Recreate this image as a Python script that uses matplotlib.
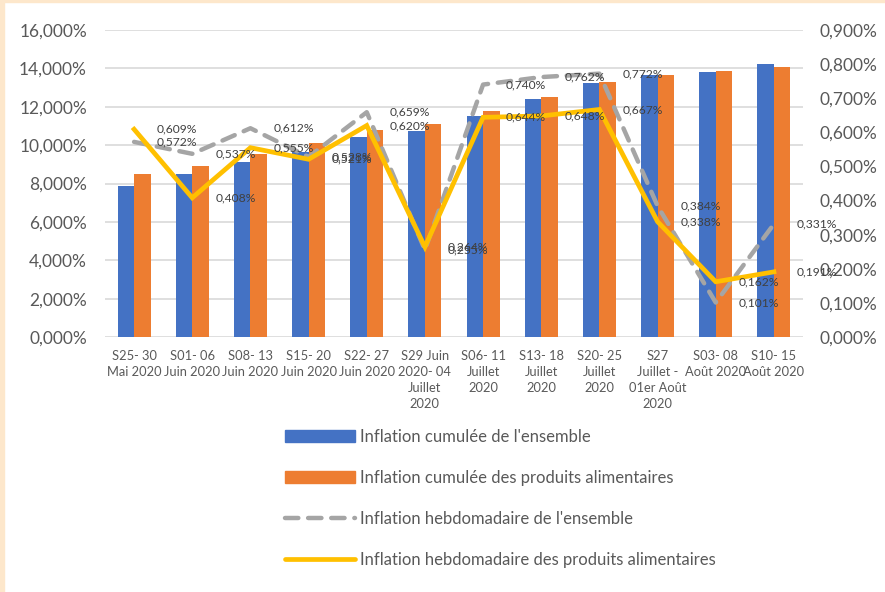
import matplotlib
matplotlib.use("Agg")
import matplotlib.pyplot as plt
from matplotlib.ticker import FuncFormatter
from matplotlib.patches import Rectangle, Patch
from matplotlib.lines import Line2D
import numpy as np

plt.rcParams['font.family'] = ['Lato', 'DejaVu Sans']

# data
weeks = ["S25- 30\nMai 2020", "S01- 06\nJuin 2020", "S08- 13\nJuin 2020",
         "S15- 20\nJuin 2020", "S22- 27\nJuin 2020", "S29 Juin\n2020- 04\nJuillet\n2020",
         "S06- 11\nJuillet\n2020", "S13- 18\nJuillet\n2020", "S20- 25\nJuillet\n2020",
         "S27\nJuillet -\n01er Août\n2020", "S03- 08\nAoût 2020", "S10- 15\nAoût 2020"]
cum_all = [7.88, 8.48, 9.12, 9.65, 10.44, 10.73, 11.53, 12.40, 13.26, 13.68, 13.81, 14.21]
cum_food = [8.49, 8.93, 9.54, 10.09, 10.79, 11.10, 11.79, 12.52, 13.30, 13.65, 13.84, 14.07]
week_all = [0.572, 0.537, 0.612, 0.528, 0.659, 0.255, 0.740, 0.762, 0.772, 0.384, 0.101, 0.331]
week_food = [0.609, 0.408, 0.555, 0.521, 0.620, 0.264, 0.644, 0.648, 0.667, 0.338, 0.162, 0.191]

labels_legend = ["Inflation cumulée de l'ensemble",
                 "Inflation cumulée des produits alimentaires",
                 "Inflation hebdomadaire de l'ensemble",
                 "Inflation hebdomadaire des produits alimentaires"]

blue = '#4472C4'
orange = '#ED7D31'
grey = '#A5A5A5'
yellow = '#FFC000'
txt = '#595959'


def pct(v, p=None):
    return f"{v:.3f}%".replace('.', ',')


fig = plt.figure(figsize=(8.85, 5.92), dpi=100)
fig.patch.set_facecolor('white')
# peach frame on left / top edge
fig.patches.append(Rectangle((0, 0), 4/885, 1, transform=fig.transFigure, color='#FDE7CB', zorder=0))
fig.patches.append(Rectangle((0, 1 - 1.5/592), 1, 1.5/592, transform=fig.transFigure, color='#FDE7CB', zorder=0))

ax = fig.add_axes([105/885, 1 - 337/592, 698/885, 307/592])
x = np.arange(len(weeks))
w = 0.285
ax.bar(x - w/2, cum_all, w, color=blue, zorder=2)
ax.bar(x + w/2, cum_food, w, color=orange, zorder=2)
ax.set_ylim(0, 16)
ax.set_xlim(-0.5, len(weeks) - 0.5)
ax.set_yticks(np.arange(0, 17, 2))
ax.yaxis.set_major_formatter(FuncFormatter(pct))
ax.grid(axis='y', color='#D9D9D9', lw=1.2, zorder=0)
ax.set_axisbelow(True)
for s in ax.spines.values():
    s.set_visible(False)
ax.set_xticks(x)
ax.set_xticklabels(weeks, fontsize=9.3, color=txt, linespacing=1.4)
ax.tick_params(axis='both', length=0)
ax.tick_params(axis='y', labelsize=12.5, labelcolor=txt, pad=13)
ax.tick_params(axis='x', pad=9)

ax2 = ax.twinx()
ax2.set_ylim(0, 0.9)
ax2.set_yticks(np.arange(0, 0.91, 0.1))
ax2.yaxis.set_major_formatter(FuncFormatter(pct))
ax2.tick_params(axis='y', length=0, labelsize=12.5, labelcolor=txt, pad=12)
for s in ax2.spines.values():
    s.set_visible(False)

ax2.plot(x, week_all, color=grey, lw=3.2, dashes=(3, 2.2), dash_capstyle='round', zorder=3)
ax2.plot(x, week_food, color=yellow, lw=3.4, solid_joinstyle='miter', zorder=4)

for xi, a, f in zip(x, week_all, week_food):
    for v in (a, f):
        ax2.annotate(pct(v), (xi, v), xytext=(23, 0),
                     textcoords='offset pixels', ha='left', va='center',
                     fontsize=8.7, color='#404040', zorder=5)

handles = [Patch(color=blue), Patch(color=orange),
           Line2D([], [], color=grey, lw=3.2, dashes=(3, 2.2), dash_capstyle='round'),
           Line2D([], [], color=yellow, lw=3.4, solid_capstyle='round')]
fig.legend(handles, labels_legend, loc='upper left', bbox_to_anchor=(285/885, 1 - 429/592),
           frameon=False, fontsize=12, handlelength=4.2, handletextpad=0.3,
           labelspacing=1.5, borderpad=0, borderaxespad=0, labelcolor=txt)

fig.savefig('out.png', dpi=100)
